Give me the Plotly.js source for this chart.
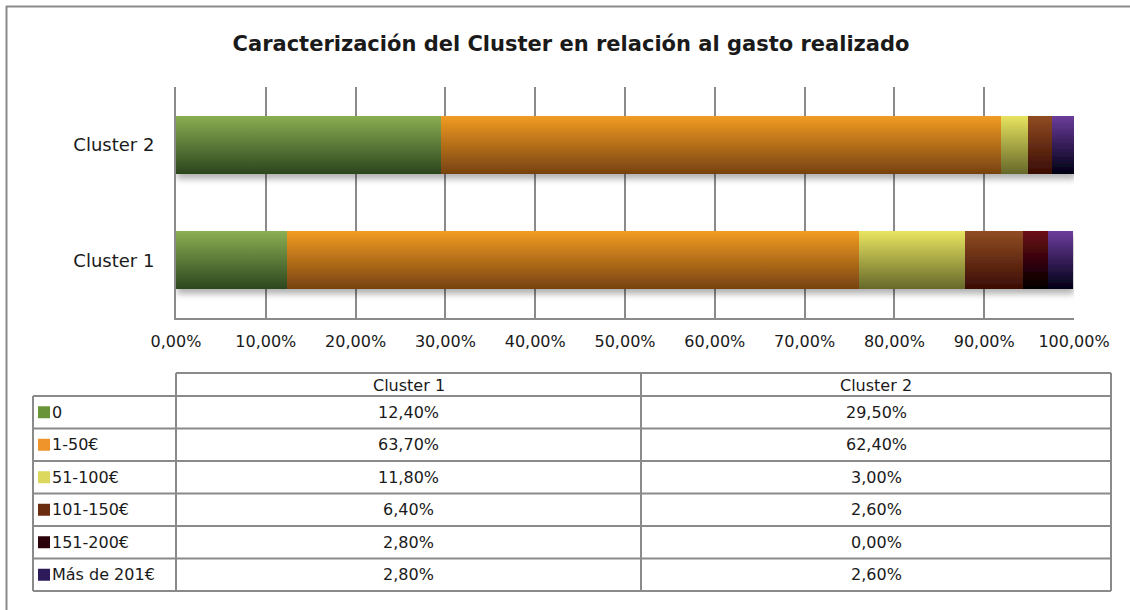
<!DOCTYPE html>
<html>
<head>
<meta charset="utf-8">
<script src="https://cdn.plot.ly/plotly-3.0.1.min.js"></script>
<style>
  html, body { margin: 0; padding: 0; background: #ffffff; }
  #chart { width: 1130px; height: 610px; }
</style>
</head>
<body>
<div id="chart"></div>
<script>
// ---- data ----
const categories = ['Cluster 1', 'Cluster 2'];
const seriesNames = ['0', '1-50€', '51-100€', '101-150€', '151-200€', 'Más de 201€'];
const cluster1 = [12.4, 63.7, 11.8, 6.4, 2.8, 2.8];
const cluster2 = [29.5, 62.4, 3.0, 2.6, 0.0, 2.6];
const xTicks = [0, 10, 20, 30, 40, 50, 60, 70, 80, 90, 100];
const chartTitle = 'Caracterización del Cluster en relación al gasto realizado';

// ---- styles ----
const swatchColors = ['#6a9438', '#ef942a', '#dcd85e', '#6a2c10', '#2c0008', '#2c1a5a'];
const gradTop = ['#8aae52', '#f29c22', '#e8e460', '#904c22', '#6c0a16', '#6c3c9c'];
const gradBottom = ['#2c461e', '#774210', '#66682a', '#3a0c04', '#000000', '#000014'];
const FONT = 'DejaVu Sans, Verdana, sans-serif';
const TXT = '#1a1a1a';
const LINE = '#8a8a8a';

// plot area geometry (pixels)
const L = 176, R = 1074, T = 87, B = 318;
const W = 1130, H = 610;
const px = x => (x - L) / (R - L);
const py = y => (B - y) / (B - T);
const fmt = v => v.toFixed(2).replace('.', ',') + '%';

const data = seriesNames.map((name, i) => ({
  type: 'bar',
  orientation: 'h',
  name: name,
  y: categories,
  x: [cluster1[i], cluster2[i]],
  marker: { color: swatchColors[i], line: { width: 0 } },
  hoverinfo: 'skip'
}));

// ---- table (shapes + annotations) ----
const shapes = [];
const annotations = [];
const line = (x0, y0, x1, y1, w) => shapes.push({
  type: 'line', xref: 'paper', yref: 'paper',
  x0: px(x0), y0: py(y0), x1: px(x1), y1: py(y1),
  line: { color: LINE, width: w || 2 }
});

// outer frame (cut off at right/bottom)
line(6, 6.5, W + 5, 6.5, 2);
line(6.5, 6, 6.5, H + 5, 2);

const tL = 33, tC0 = 176, tC1 = 641, tR = 1111;
const hTop = 373, rTop = 396, rowH = 32.5;
const nRows = seriesNames.length;
const tBot = rTop + rowH * nRows;

// header row
line(tC0, hTop, tR, hTop);
// row lines
for (let r = 0; r <= nRows; r++) {
  const y = rTop + r * rowH;
  line(tL, y, tR, y);
}
// vertical lines
line(tL, rTop, tL, tBot);
line(tC0, hTop, tC0, tBot);
line(tC1, hTop, tC1, tBot);
line(tR, hTop, tR, tBot);

const txt = (text, x, y, anchor) => annotations.push({
  text: text, xref: 'paper', yref: 'paper', x: px(x), y: py(y),
  xanchor: anchor || 'center', yanchor: 'middle', showarrow: false,
  font: { family: FONT, size: 16, color: TXT }
});

txt(categories[0], (tC0 + tC1) / 2, (hTop + rTop) / 2 + 1);
txt(categories[1], (tC1 + tR) / 2, (hTop + rTop) / 2 + 1);

seriesNames.forEach((name, i) => {
  const yc = rTop + rowH * i + rowH / 2;
  shapes.push({
    type: 'rect', xref: 'paper', yref: 'paper',
    x0: px(38), x1: px(50), y0: py(yc - 6), y1: py(yc + 6),
    fillcolor: swatchColors[i], line: { width: 0 }
  });
  txt(name, 50, yc, 'left');
  txt(fmt(cluster1[i]), (tC0 + tC1) / 2, yc);
  txt(fmt(cluster2[i]), (tC1 + tR) / 2, yc);
});

const layout = {
  width: W, height: H,
  margin: { l: L, r: W - R, t: T, b: H - B, pad: 0 },
  paper_bgcolor: '#ffffff',
  plot_bgcolor: '#ffffff',
  barmode: 'stack',
  bargap: 0.5,
  showlegend: false,
  separators: ',.',
  font: { family: FONT, color: TXT },
  title: {
    text: chartTitle,
    x: 571 / W, xanchor: 'center', xref: 'container',
    y: 1 - 44 / H, yanchor: 'middle', yref: 'container',
    font: { family: FONT, size: 21, color: TXT, weight: 'bold' }
  },
  xaxis: {
    range: [0, 100],
    tickmode: 'array',
    tickvals: xTicks,
    ticktext: xTicks.map(fmt),
    showgrid: true, gridcolor: LINE, gridwidth: 2,
    showline: true, linecolor: LINE, linewidth: 2,
    zeroline: false, ticks: '',
    ticklabelstandoff: 8,
    tickfont: { family: FONT, size: 16, color: TXT },
    fixedrange: true
  },
  yaxis: {
    showgrid: false,
    showline: true, linecolor: LINE, linewidth: 2,
    zeroline: false, ticks: '',
    ticklabelstandoff: 16,
    tickfont: { family: FONT, size: 18, color: TXT },
    fixedrange: true
  },
  shapes: shapes,
  annotations: annotations
};

Plotly.newPlot('chart', data, layout, { staticPlot: true, displayModeBar: false }).then(gd => {
  const ns = 'http://www.w3.org/2000/svg';
  const svg = gd.querySelector('.main-svg');
  let defs = svg.querySelector('defs');
  if (!defs) { defs = document.createElementNS(ns, 'defs'); svg.insertBefore(defs, svg.firstChild); }
  seriesNames.forEach((n, i) => {
    const lg = document.createElementNS(ns, 'linearGradient');
    lg.setAttribute('id', 'barGrad' + i);
    lg.setAttribute('x1', '0'); lg.setAttribute('y1', '0');
    lg.setAttribute('x2', '0'); lg.setAttribute('y2', '1');
    [[0, gradTop[i]], [1, gradBottom[i]]].forEach(([o, c]) => {
      const s = document.createElementNS(ns, 'stop');
      s.setAttribute('offset', o);
      s.setAttribute('stop-color', c);
      lg.appendChild(s);
    });
    defs.appendChild(lg);
  });
  const f = document.createElementNS(ns, 'filter');
  f.setAttribute('id', 'barShadow');
  f.setAttribute('x', '-5%'); f.setAttribute('y', '-30%');
  f.setAttribute('width', '110%'); f.setAttribute('height', '170%');
  const ds = document.createElementNS(ns, 'feDropShadow');
  ds.setAttribute('dx', '1'); ds.setAttribute('dy', '5');
  ds.setAttribute('stdDeviation', '3');
  ds.setAttribute('flood-color', '#000');
  ds.setAttribute('flood-opacity', '0.3');
  f.appendChild(ds);
  defs.appendChild(f);

  const layer = gd.querySelector('.barlayer');
  if (layer) {
    layer.querySelectorAll('.trace').forEach((t, i) => {
      t.querySelectorAll('path').forEach(p => { p.style.fill = 'url(#barGrad' + i + ')'; });
    });
    layer.setAttribute('filter', 'url(#barShadow)');
  }
});
</script>
</body>
</html>
